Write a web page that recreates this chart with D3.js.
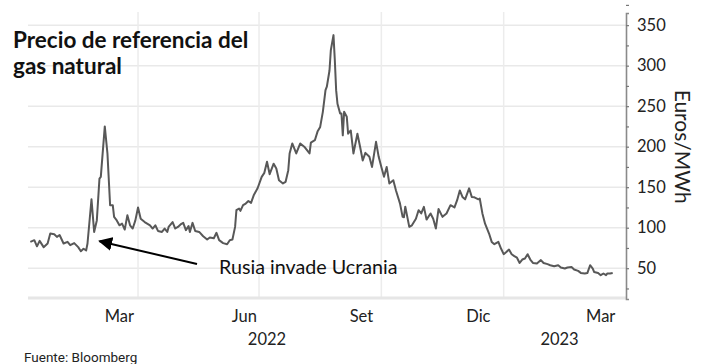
<!DOCTYPE html>
<html>
<head>
<meta charset="utf-8">
<script src="https://cdn.jsdelivr.net/npm/d3@7"></script>
<style>
  body { margin: 0; background: #fff; }
  svg { display: block; }
  text { font-family: Lato, "Open Sans", sans-serif; }
</style>
</head>
<body>
<div id="chart"></div>
<script>
// precio diario TTF (EUR/MWh)
const dates = [
  "2022-01-10","2022-01-13","2022-01-15","2022-01-17","2022-01-20","2022-01-23","2022-01-25","2022-01-28","2022-01-30",
  "2022-02-01","2022-02-04","2022-02-07","2022-02-09","2022-02-12","2022-02-15","2022-02-17","2022-02-19","2022-02-21",
  "2022-02-22","2022-02-25","2022-02-27","2022-03-01","2022-03-03","2022-03-04","2022-03-07","2022-03-09","2022-03-11",
  "2022-03-13","2022-03-14","2022-03-16","2022-03-18","2022-03-20","2022-03-22","2022-03-24","2022-03-26","2022-03-28",
  "2022-03-30","2022-04-01","2022-04-03","2022-04-06","2022-04-10","2022-04-12","2022-04-14","2022-04-16","2022-04-19",
  "2022-04-21","2022-04-23","2022-04-24","2022-04-27","2022-04-29","2022-05-01","2022-05-03","2022-05-05","2022-05-07",
  "2022-05-09","2022-05-10","2022-05-12","2022-05-14","2022-05-17","2022-05-20","2022-05-23","2022-05-25","2022-05-28",
  "2022-05-30","2022-06-01","2022-06-04","2022-06-07","2022-06-09","2022-06-11","2022-06-13","2022-06-14","2022-06-16",
  "2022-06-17","2022-06-19","2022-06-21","2022-06-23","2022-06-25","2022-06-27","2022-06-30","2022-07-03","2022-07-05",
  "2022-07-07","2022-07-09","2022-07-12","2022-07-14","2022-07-16","2022-07-19","2022-07-21","2022-07-23","2022-07-24",
  "2022-07-26","2022-07-29","2022-08-01","2022-08-04","2022-08-08","2022-08-09","2022-08-12","2022-08-14","2022-08-16",
  "2022-08-18","2022-08-20","2022-08-21","2022-08-23","2022-08-24","2022-08-26","2022-08-27","2022-08-28","2022-08-29",
  "2022-08-31","2022-09-01","2022-09-02","2022-09-03","2022-09-05","2022-09-06","2022-09-08","2022-09-10","2022-09-13",
  "2022-09-15","2022-09-17","2022-09-19","2022-09-22","2022-09-24","2022-09-27","2022-09-29","2022-10-01","2022-10-03",
  "2022-10-05","2022-10-07","2022-10-10","2022-10-12","2022-10-15","2022-10-17","2022-10-18","2022-10-19","2022-10-22",
  "2022-10-24","2022-10-27","2022-10-29","2022-10-31","2022-11-02","2022-11-04","2022-11-07","2022-11-09","2022-11-11",
  "2022-11-13","2022-11-16","2022-11-19","2022-11-22","2022-11-25","2022-11-27","2022-11-29","2022-12-01","2022-12-03",
  "2022-12-06","2022-12-08","2022-12-10","2022-12-13","2022-12-14","2022-12-16","2022-12-18","2022-12-21","2022-12-23",
  "2022-12-25","2022-12-28","2022-12-30","2023-01-01","2023-01-03","2023-01-05","2023-01-07","2023-01-09","2023-01-11",
  "2023-01-13","2023-01-15","2023-01-17","2023-01-19","2023-01-21","2023-01-23","2023-01-26","2023-01-29","2023-01-31",
  "2023-02-03","2023-02-05","2023-02-08","2023-02-11","2023-02-13","2023-02-16","2023-02-18","2023-02-21","2023-02-23",
  "2023-02-26","2023-02-28","2023-03-03","2023-03-05","2023-03-07","2023-03-09","2023-03-10","2023-03-13","2023-03-15",
  "2023-03-17","2023-03-19","2023-03-20","2023-03-22","2023-03-24"
];
const prices = [
  82.5,84.6,77,83.7,76,80.5,92.8,92,88.7,
  91,80.5,82.5,78.4,81,76,71,74,72,
  80.5,135,94.8,109,160.7,162.8,225,191.6,127.8,
  127.8,113.3,109,103,105,97.7,115.4,103,99,
  109,125,111,107,103,99,103,96,94.8,
  99,94.8,101,107,99,101,104,106,97,
  102,94.8,106,96,94.8,89.5,85.4,88,87,
  93.7,84.6,81,79.6,84.6,85.4,101,121.6,123.7,
  120.8,127.8,129.8,133,130.7,140,149,162.8,167.7,
  181.4,166,179,173,158.6,154.6,156.6,171,191.6,
  204,191.6,204,200,191.6,205,208,218.6,224.4,
  243,269.8,274,294,319,337.7,306.8,269.8,253,
  241,241,214,243,237,216,220,191.6,216,
  200,183,192.4,187.5,175,206,187.5,175,162.8,
  175,154.6,158.6,146,130,113.4,113,126,101,
  103,111,121.6,117.6,125.7,110,117.6,111,99,
  123,113.4,117.6,127.8,125,134,146,138,135,
  148.6,138,137.5,135,136,117.6,105,92.8,82.5,
  79.6,82.5,74.3,67.3,70,73,67.3,65,63,
  56.5,60.7,62,67.3,60.7,56.5,55.7,60,56.5,
  55,53.7,52.5,53.7,50.9,49.6,50.9,51.6,48.4,
  46.7,44.2,43.5,44.2,53.7,49.6,45.4,44.2,41.4,
  43.5,41.4,43.5,43.5,44.2
];

const yTicks = [50, 100, 150, 200, 250, 300, 350];
const gridDates = ["2022-04-01", "2022-07-01", "2022-10-01", "2023-01-01"];
const monthLabels = ["Mar", "Jun", "Set", "Dic", "Mar"];
const monthLabelDates = ["2022-03-18", "2022-06-20", "2022-09-16", "2022-12-13", "2023-03-15"];
const yearLabels = ["2022", "2023"];
const yearLabelDates = ["2022-07-07", "2023-02-12"];

const titleLines = ["Precio de referencia del", "gas natural"];
const yTitle = "Euros/MWh";
const note = "Rusia invade Ucrania";
const noteDate = "2022-02-28";
const noteValue = 92;
const source = "Fuente: Bloomberg";

const W = 706, H = 364;
const parse = d3.utcParse("%Y-%m-%d");
const data = dates.map((d, i) => ({ date: parse(d), value: prices[i] }));

const svg = d3.select("#chart").append("svg")
  .attr("width", W).attr("height", H);

const x = d3.scaleUtc()
  .domain([parse("2022-01-09"), parse("2023-04-03")])
  .range([29, 626]);
const y = d3.scaleLinear()
  .domain([12, 365])
  .range([299, 13]);

// grid
const grid = svg.append("g");
grid.selectAll("line.h").data(yTicks).join("line")
  .attr("x1", 28).attr("x2", 626)
  .attr("y1", d => y(d)).attr("y2", d => y(d))
  .attr("stroke", "#e9e9e9").attr("stroke-width", 1.5);
grid.selectAll("line.v").data(gridDates).join("line")
  .attr("x1", d => x(parse(d))).attr("x2", d => x(parse(d)))
  .attr("y1", 12).attr("y2", 298)
  .attr("stroke", "#ececec").attr("stroke-width", 1.5);
grid.append("line")
  .attr("x1", 28).attr("x2", 626).attr("y1", 298).attr("y2", 298)
  .attr("stroke", "#e6e6e6").attr("stroke-width", 3);

// right axis
const yAxis = d3.axisRight(y)
  .tickValues(d3.range(25, 376, 25))
  .tickSize(3)
  .tickPadding(8)
  .tickFormat(d => yTicks.includes(d) ? d : "");
const ax = svg.append("g")
  .attr("transform", "translate(626,0)")
  .call(yAxis);
ax.select(".domain").attr("stroke", "#8a8a8a").attr("stroke-width", 1.6);
ax.selectAll(".tick line").attr("stroke", "#777").attr("stroke-width", 1.2);
ax.selectAll(".tick text")
  .attr("fill", "#222").style("font-size", "16.5px");

svg.append("text")
  .attr("transform", `translate(675,${y(200)}) rotate(90)`)
  .attr("text-anchor", "middle")
  .attr("fill", "#222")
  .style("font-size", "21px")
  .text(yTitle);

// price line
const line = d3.line()
  .x(d => x(d.date))
  .y(d => y(d.value));
svg.append("path")
  .datum(data)
  .attr("fill", "none")
  .attr("stroke", "#585858")
  .attr("stroke-width", 2)
  .attr("stroke-linejoin", "round")
  .attr("d", line);

// x labels
svg.selectAll("text.month").data(monthLabels).join("text")
  .attr("x", (d, i) => x(parse(monthLabelDates[i])))
  .attr("y", 322)
  .attr("text-anchor", "middle")
  .attr("fill", "#222")
  .style("font-size", "16.5px")
  .text(d => d);
svg.selectAll("text.year").data(yearLabels).join("text")
  .attr("x", (d, i) => x(parse(yearLabelDates[i])))
  .attr("y", 345)
  .attr("text-anchor", "middle")
  .attr("fill", "#222")
  .style("font-size", "16.5px")
  .text(d => d);

// title
svg.selectAll("text.title").data(titleLines).join("text")
  .attr("x", 13)
  .attr("y", (d, i) => 48 + i * 26)
  .attr("fill", "#111")
  .style("font-size", "22.5px")
  .style("font-weight", "bold")
  .text(d => d);

// annotation
svg.append("defs").append("marker")
  .attr("id", "head")
  .attr("viewBox", "0 0 10 10")
  .attr("refX", 9).attr("refY", 5)
  .attr("markerWidth", 7).attr("markerHeight", 7)
  .attr("markerUnits", "strokeWidth")
  .attr("orient", "auto")
  .append("path").attr("d", "M0,0L10,5L0,10z").attr("fill", "#000");
svg.append("line")
  .attr("x1", 197).attr("y1", 264)
  .attr("x2", x(parse(noteDate)) + 4).attr("y2", y(noteValue) + 7)
  .attr("stroke", "#000").attr("stroke-width", 2)
  .attr("marker-end", "url(#head)");
svg.append("text")
  .attr("x", 219).attr("y", 274)
  .attr("fill", "#111")
  .style("font-size", "19.7px")
  .text(note);

svg.append("text")
  .attr("x", 24).attr("y", 362)
  .attr("fill", "#222")
  .style("font-family", "Roboto, sans-serif")
  .style("font-size", "13.5px")
  .text(source);
</script>
</body>
</html>
